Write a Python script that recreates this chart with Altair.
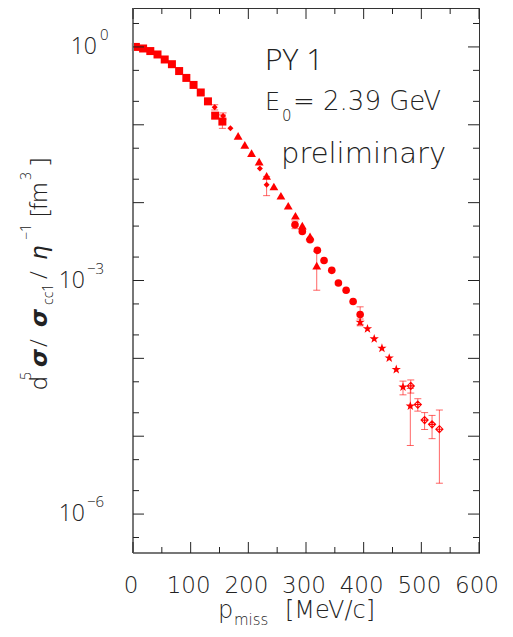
import altair as alt
import pandas as pd

FONT = "Open Sans"
WFONT = "DejaVu Sans"
RED = "#ff0000"
INK = "#222222"

# ---------------- data ----------------
sq_p = [5, 17.5, 30, 42.5, 55, 67.5, 80, 92.5, 105, 117.5, 130, 142.5, 155]
sq_v = [1.0, 0.955, 0.885, 0.80, 0.69, 0.60, 0.49, 0.40, 0.325, 0.26, 0.20, 0.131, 0.11]

dia_p = [141.7, 156.2, 169, 220, 231.7]
dia_v = [0.168, 0.130, 0.0904, 0.0275, 0.0170]

tri_p = [182.3, 193.9, 205.6, 218.8, 231.7, 244.3, 256.5, 269.2, 281.7, 293.6, 307, 318.6]
tri_v = [0.072, 0.0553, 0.0432, 0.0337, 0.0221, 0.0161, 0.01225, 0.00912, 0.00679,
         0.00506, 0.00369, 0.00155]

cir_p = [280.9, 293.6, 307, 319.7, 331.3, 344.7, 356.2, 369.6, 381.7, 393.9]
cir_v = [0.00521, 0.00427, 0.00334, 0.00244, 0.00181, 0.00135, 0.00093, 0.000749,
         0.000537, 0.000366]

star_p = [393.9, 406.6, 418.3, 431.7, 444.3, 456.5, 468.2, 480.9]
star_v = [0.000291, 0.00024, 0.000178, 0.000135, 0.000101, 7.2e-5, 4.27e-5, 2.44e-5]

od_p = [481.7, 493.9, 505.7, 518.6, 531.3]
od_v = [4.43e-5, 2.55e-5, 1.61e-5, 1.42e-5, 1.23e-5]

err_p = [142.5, 155, 141.7, 156.2, 231.7, 318.6, 280.9, 393.9, 393.9, 468.2, 480.9,
         481.7, 493.9, 505.7, 518.6, 531.3]
err_lo = [0.121, 0.090, 0.155, 0.118, 0.0123, 0.00075, 0.00463, 0.000273, 0.000262,
          3.4e-5, 7.6e-6, 3.58e-5, 2.1e-5, 1.22e-5, 9.3e-6, 2.49e-6]
err_hi = [0.141, 0.134, 0.181, 0.142, 0.0217, 0.00235, 0.0058, 0.000459, 0.00032,
          5.1e-5, 4.1e-5, 5.28e-5, 3.03e-5, 2.01e-5, 1.85e-5, 2.17e-5]

x_labels = [0, 100, 200, 300, 400, 500, 600]
x_minor = [50, 150, 250, 350, 450, 550]
y_major = [1e-6, 1e-5, 1e-4, 1e-3, 1e-2, 1e-1, 1e0]
y_minor = [5e-7, 2e-6, 5e-6, 2e-5, 5e-5, 2e-4, 5e-4, 2e-3, 5e-3, 2e-2, 5e-2, 2e-1, 5e-1, 2e0]
y_lab_v = [1e0, 1e-3, 1e-6]
y_lab_exp = ["0", "\u22123", "\u22126"]

# ---------------- scales ----------------
W, H = 346, 545
xs = alt.Scale(domain=[0, 600], nice=False, zero=False)
ys = alt.Scale(type="log", domain=[10 ** -6.5, 10 ** 0.5], nice=False)

STAR = ("M0,-1L0.235,-0.324L0.951,-0.309L0.380,0.124L0.588,0.809L0,0.4L-0.588,0.809"
        "L-0.380,0.124L-0.951,-0.309L-0.235,-0.324Z")
ODIA = "M0,-1L1,0L0,1L-1,0ZM0,-1L0,1M-1,0L1,0"


def X(f):
    return alt.X(f, scale=xs, axis=None)


def Y(f):
    return alt.Y(f, scale=ys, axis=None)


errs = pd.DataFrame({"p": err_p, "lo": err_lo, "hi": err_hi})
err_rule = alt.Chart(errs).mark_rule(color=RED, opacity=0.6, strokeWidth=1).encode(
    x=X("p:Q"), y=Y("lo:Q"), y2="hi:Q")
cap_lo = alt.Chart(errs).mark_point(shape="stroke", size=49, color=RED, opacity=0.6,
                                    strokeWidth=1).encode(x=X("p:Q"), y=Y("lo:Q"))
cap_hi = alt.Chart(errs).mark_point(shape="stroke", size=49, color=RED, opacity=0.6,
                                    strokeWidth=1).encode(x=X("p:Q"), y=Y("hi:Q"))


def series(ps, vs, shape, size, filled=True):
    d = pd.DataFrame({"p": ps, "v": vs})
    if filled:
        m = alt.Chart(d).mark_point(shape=shape, size=size, filled=True, color=RED,
                                    opacity=1, strokeWidth=0)
    else:
        m = alt.Chart(d).mark_point(shape=shape, size=size, filled=False, color=RED,
                                    opacity=1, strokeWidth=1.1)
    return m.encode(x=X("p:Q"), y=Y("v:Q"))


marks = [
    series(sq_p, sq_v, "square", 64),
    series(dia_p, dia_v, "diamond", 36),
    series(tri_p, tri_v, "triangle-up", 78),
    series(cir_p, cir_v, "circle", 58),
    series(star_p, star_v, STAR, 95),
    series(od_p, od_v, ODIA, 50, filled=False),
]

# ---------------- frame & inward ticks ----------------
def xticks(vals, length):
    d = pd.DataFrame({"t": vals})
    bot = alt.Chart(d).mark_rule(color=INK, strokeWidth=1).encode(
        x=X("t:Q"), y=alt.value(H), y2=alt.value(H - length))
    top = alt.Chart(d).mark_rule(color=INK, strokeWidth=1).encode(
        x=X("t:Q"), y=alt.value(0), y2=alt.value(length))
    return [bot, top]


def yticks(vals, length):
    d = pd.DataFrame({"t": vals})
    left = alt.Chart(d).mark_rule(color=INK, strokeWidth=1).encode(
        y=Y("t:Q"), x=alt.value(0), x2=alt.value(length))
    right = alt.Chart(d).mark_rule(color=INK, strokeWidth=1).encode(
        y=Y("t:Q"), x=alt.value(W), x2=alt.value(W - length))
    return [left, right]


one = pd.DataFrame({"k": [0]})
frame_left = alt.Chart(one).mark_rule(color="#777777", strokeWidth=2).encode(
    x=alt.value(0), y=alt.value(0), y2=alt.value(H))
frame_bot = alt.Chart(one).mark_rule(color="#777777", strokeWidth=2).encode(
    x=alt.value(0), x2=alt.value(W), y=alt.value(H))

# ---------------- tick labels ----------------
xlab = alt.Chart(pd.DataFrame({"t": x_labels})).mark_text(
    font=WFONT, fontSize=23, fontWeight=200, color=INK, align="center",
    baseline="alphabetic", dx=-2).encode(
    x=X("t:Q"), y=alt.value(H + 40), text="t:N")

lab_df = pd.DataFrame({"v": y_lab_v, "e": y_lab_exp})
lab_a = lab_df.iloc[:1]
lab_b = lab_df.iloc[1:]


def ylab(df, xb, xe):
    base = alt.Chart(df).mark_text(text="10", font=FONT, fontSize=23, fontWeight=300,
                                   color=INK, align="right", baseline="middle").encode(
        y=Y("v:Q"), x=alt.value(xb))
    sup = alt.Chart(df).mark_text(font=FONT, fontSize=15, fontWeight=300, color=INK,
                                  align="left", baseline="middle", dy=-12).encode(
        y=Y("v:Q"), x=alt.value(xe), text="e:N")
    return [base, sup]


# ---------------- free text ----------------
def txt(s, x, y, size, weight=300, style="normal", angle=0, font=FONT, align="left"):
    return alt.Chart(pd.DataFrame({"s": [s]})).mark_text(
        font=font, fontSize=size, fontWeight=weight, fontStyle=style, angle=angle,
        align=align, baseline="alphabetic", color=INK).encode(
        text="s:N", x=alt.value(x), y=alt.value(y))


texts = [
    txt("PY 1", 132, 62, 30),
    txt("E", 132, 102, 24, weight=200, font=WFONT),
    txt("0", 149, 113, 15, weight=200, font=WFONT),
    txt("= 2.39 GeV", 160, 102, 26, weight=200, font=WFONT),
    txt("preliminary", 148, 155, 29, weight=200, font=WFONT),
    # x title
    txt("p", 85, 610, 24, weight=200, font=WFONT),
    txt("miss", 101, 617, 15, weight=200, font=WFONT),
    txt("[MeV/c]", 152, 610, 24, weight=200, font=WFONT),
]

YB, YS, YSUB = -86, -102, -80
ytitle = [
    txt("d", YB, 382, 23, angle=270),
    txt("5", YS, 372, 14, angle=270),
    txt("\u03c3", YB, 359, 23, weight="bold", style="italic", angle=270, font="DejaVu Sans"),
    txt("/", YB, 339, 23, angle=270),
    txt("\u03c3", YB, 319, 23, weight="bold", style="italic", angle=270, font="DejaVu Sans"),
    txt("cc1", YSUB, 297, 14, angle=270),
    txt("/", YB, 271, 23, angle=270),
    txt("\u03b7", YB, 252, 23, style="italic", angle=270, font="DejaVu Sans"),
    txt("\u22121", YS, 232, 14, angle=270),
    txt("[fm", YB, 209, 23, angle=270),
    txt("3", YS, 172, 14, angle=270),
    txt("]", YB, 157, 23, angle=270),
]

layers = ([err_rule, cap_lo, cap_hi] + marks + [frame_left, frame_bot]
          + xticks(x_labels, 11) + xticks(x_minor, 6)
          + yticks(y_major, 11) + yticks(y_minor, 6)
          + [xlab] + ylab(lab_a, -36, -33) + ylab(lab_b, -48, -46)
          + texts + ytitle)

chart = alt.layer(*layers).properties(
    width=W, height=H,
    autosize=alt.AutoSizeParams(type="none"),
    padding={"left": 125, "top": 0, "right": 22, "bottom": 77},
).configure_view(stroke="#333333", strokeWidth=1)

chart.save("out.html", embed_options={"renderer": "svg", "actions": False})
